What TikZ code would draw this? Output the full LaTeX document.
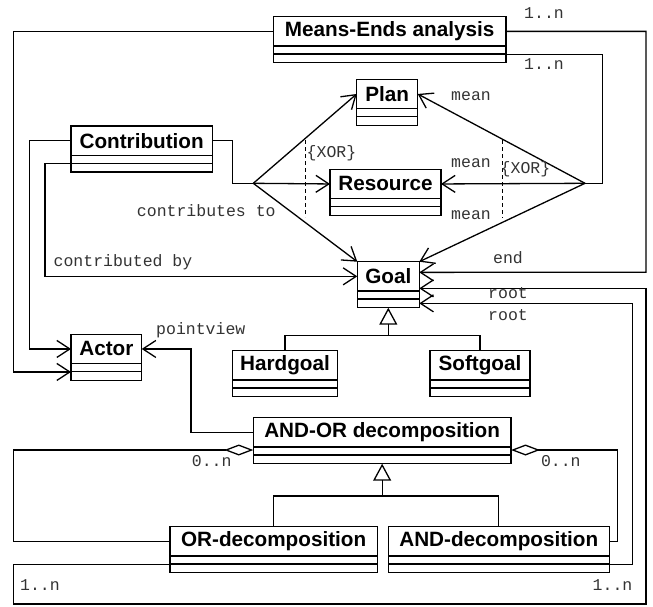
\documentclass[tikz,border=0pt]{standalone}
\usepackage{fontspec}
\setmainfont{Liberation Sans}
\newfontfamily\monof{Liberation Mono}
\usetikzlibrary{arrows.meta,calc}
\tikzset{
  clsname/.style={draw, line width=1.4pt, rectangle, inner sep=0pt, outer sep=0pt,
    minimum height=29.3pt, font=\fontsize{20.7}{22}\selectfont\bfseries},
  clscomp/.style={draw, line width=1.4pt, rectangle, inner sep=0pt, outer sep=0pt,
    minimum height=16.7pt},
  conn/.style={line width=1.3pt},
  arr/.style={conn, -{Straight Barb[length=13pt,width=17pt]}},
  gen/.style={conn, -{Triangle[open,length=17pt,width=18pt]}},
  agg/.style={conn, {Diamond[open,length=29pt,width=11pt]}-},
  lbl/.style={font=\monof\fontsize{16.5}{18}\selectfont, inner sep=0pt, text=black!80},
  xorline/.style={line width=0.7pt, dash pattern=on 4pt off 3pt},
}
\newcommand{\umlcls}[5]{%
  \node[clsname, minimum width={(#3-#2)*1pt}] (#1) at ({(#2+#3)/2},{#4+14.65}) {#5};
  \node[clscomp, minimum width={(#3-#2)*1pt}, anchor=north] (#1-c) at (#1.south) {};
  \draw[line width=1.4pt] ($(#1-c.west)+(0,-0.3)$) -- ($(#1-c.east)+(0,-0.3)$);
}
\begin{document}
\begin{tikzpicture}[x=1pt,y=-1pt]
\useasboundingbox (0,0) rectangle (653,606);

% classes
\umlcls{me}{273.3}{506}{16.7}{Means-Ends analysis}
\umlcls{plan}{356.7}{417.7}{79.3}{Plan}
\umlcls{resource}{330}{441}{169.3}{Resource}
\umlcls{contribution}{71}{212.3}{126}{Contribution}
\umlcls{goal}{357.3}{419.3}{261.7}{Goal}
\umlcls{actor}{71}{141.7}{334.3}{Actor}
\umlcls{hardgoal}{232.3}{337.7}{350.7}{Hardgoal}
\umlcls{softgoal}{430}{530}{350.7}{Softgoal}
\umlcls{andor}{253.3}{511}{417.7}{AND-OR decomposition}
\umlcls{ordec}{170}{377.3}{526.7}{OR-decomposition}
\umlcls{anddec}{388.3}{609.3}{526.7}{AND-decomposition}

% helper coordinates
\coordinate (FL) at (253.3,183.3);
\coordinate (FR) at (585,183.3);
\coordinate (R1) at (646,272.3);
\coordinate (bl) at (13.3,604);
\coordinate (br) at (646,604);

% means-ends
\draw[arr] (me.west) -- ++(-260,0) |- (actor-c.west);
\draw[arr] (me.east) -| (R1) -- ($(goal.east)+(0,-4)$);
\draw[conn] (me-c.east) -| ($(FR)+(17.7,0)$) -- (FR);
\draw[arr] (FR) -- (plan.east);
\draw[arr] (FR) -- (resource.east);
\draw[arr] (FR) -- (goal.north east);

% contribution
\draw[conn] (contribution.east) -| ($(FL)+(-20.6,0)$) -- (FL);
\draw[arr] (FL) -- (plan.west);
\draw[arr] (FL) -- (resource.west);
\draw[arr] (FL) -- (goal.north west);
\draw[arr] (contribution.west) -- ++(-41.7,0) |- (actor.west);
\draw[arr] (contribution-c.west) -- ++(-26,0) |- (goal.west);

% XOR constraints
\coordinate (x1a) at (305,140);
\coordinate (x1b) at (305,217);
\coordinate (x2a) at (502.3,140);
\coordinate (x2b) at (502.3,218);
\draw[xorline] (x1a) -- (x1b);
\draw[xorline] (x2a) -- (x2b);

% goal generalization
\coordinate (gj1) at ($(goal-c.south)+(0,27.6)$);
\draw[conn] (hardgoal.north) |- (gj1) -| (softgoal.north);
\draw[gen] (gj1) -- (goal-c.south);

% pointview
\draw[arr] (andor.west) -- ++(-62.3,0) |- (actor.east);

% decomposition generalization
\coordinate (gj2) at ($(andor-c.south)+(0,32.3)$);
\draw[conn] (ordec.north) |- (gj2) -| (anddec.north);
\draw[gen] (gj2) -- (andor-c.south);

% aggregations
\draw[agg] ($(andor-c.north west)+(0,3)$) -- ++(-240,0) |- (ordec.west);
\draw[agg] ($(andor-c.north east)+(0,3)$) -- ++(106.7,0) |- (anddec.east);

% roots
\draw[arr] (ordec-c.west) -| (bl) -- (br) |- ($(goal.east)+(0,12)$);
\draw[arr] (anddec-c.east) -| ($(goal.east)+(213.4,27)$) -- ($(goal.east)+(0,27)$);

% labels
\node[lbl] (l1) at (544,12.7) {1..n};
\node[lbl] (l2) at (544,64.3) {1..n};
\node[lbl] (l3) at (471,95.7) {mean};
\node[lbl] (l4) at (471,163.3) {mean};
\node[lbl] (l5) at (471,215) {mean};
\node[lbl, anchor=west] (l6) at (306.5,153) {\{XOR\}};
\node[lbl, anchor=west] (l7) at (500.5,169) {\{XOR\}};
\node[lbl] (l8) at (206.3,210.7) {contributes to};
\node[lbl] (l9) at (123,262.3) {contributed by};
\node[lbl] (l10) at (508,257.3) {end};
\node[lbl] (l11) at (508,293.3) {root};
\node[lbl] (l12) at (508,315) {root};
\node[lbl] (l13) at (200.8,330.7) {pointview};
\node[lbl] (l14) at (211.7,460.7) {0..n};
\node[lbl] (l15) at (560.8,460.7) {0..n};
\node[lbl] (l16) at (40,585) {1..n};
\node[lbl] (l17) at (612.5,585) {1..n};
\end{tikzpicture}
\end{document}
